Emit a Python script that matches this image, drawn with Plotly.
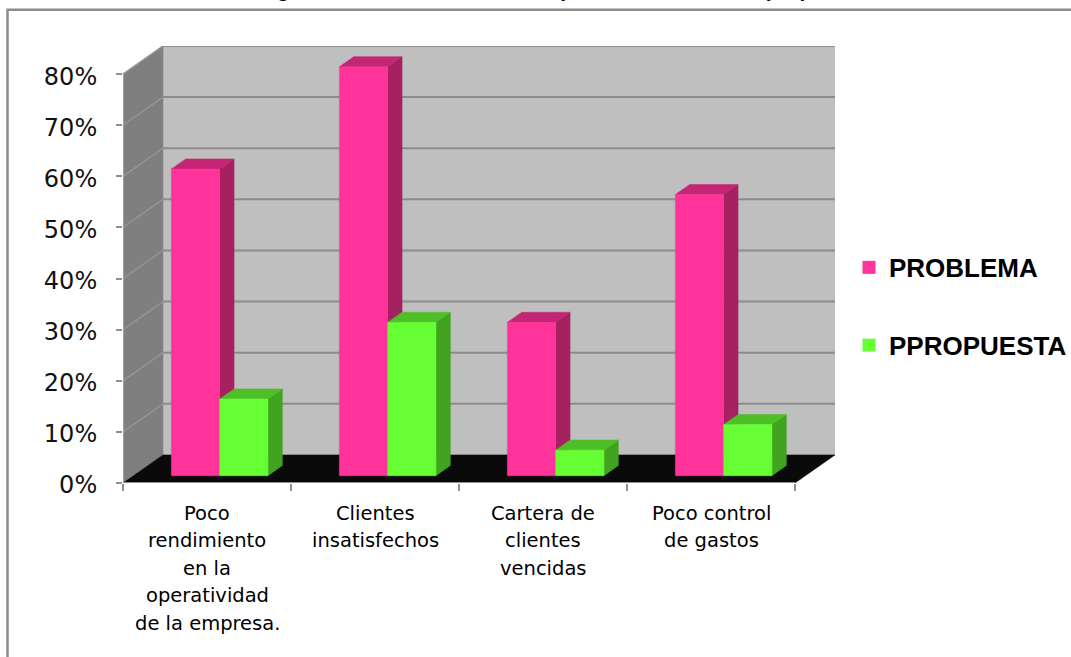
import plotly.graph_objects as go

# Chart values
category_lines = [
    ["Poco", "rendimiento", "en la", "operatividad", "de la empresa."],
    ["Clientes", "insatisfechos"],
    ["Cartera de", "clientes", "vencidas"],
    ["Poco control", "de gastos"],
]
problema = [60, 80, 30, 55]
propuesta = [15, 30, 5, 10]
y_ticks = [0, 10, 20, 30, 40, 50, 60, 70, 80]
y_tick_labels = ["0%", "10%", "20%", "30%", "40%", "50%", "60%", "70%", "80%"]
series_names = ["PROBLEMA", "PPROPUESTA"]

# Oblique projection of the depth axis, in axis units
DEPTH_X = 0.238
DEPTH_Y = 5.5
BAR_FRONT = 0.26
BAR_BACK = 0.62
BAR_LEFT = 0.226
BAR_WIDTH = 0.2875

PINK = {"front": "#FF3399", "side": "#A62160", "top": "#C42575"}
GREEN = {"front": "#66FF33", "side": "#41A320", "top": "#4FBF27"}
WALL = "#BFBFBF"
SIDE_WALL = "#7F7F7F"
FLOOR = "#0A0A0A"
GRID = "#8C8C8C"
AXIS = "#8F8F8F"

# Plot area in pixels
W, H = 1071, 657
L, R, T, B = 123, 236, 45.7, 173.5
PW, PH = W - L - R, H - T - B


def px(x):
    return (x - L) / PW


def py(y):
    return 1 - (y - T) / PH


def proj(x, v, depth):
    return x + depth * DEPTH_X, v + depth * DEPTH_Y


def polygon(points, color):
    xs = [p[0] for p in points] + [points[0][0]]
    ys = [p[1] for p in points] + [points[0][1]]
    return go.Scatter(
        x=xs, y=ys, mode="lines", fill="toself", fillcolor=color,
        line=dict(color=color, width=0.5), hoverinfo="skip", showlegend=False,
        cliponaxis=False,
    )


def segment(a, b, color, width=2):
    return go.Scatter(
        x=[a[0], b[0]], y=[a[1], b[1]], mode="lines",
        line=dict(color=color, width=width), hoverinfo="skip", showlegend=False,
        cliponaxis=False,
    )


def box(x0, x1, value, colors):
    """Side, top and front faces of one column standing on the floor."""
    f0, b0 = BAR_FRONT, BAR_BACK
    side = [proj(x1, 0, f0), proj(x1, 0, b0), proj(x1, value, b0), proj(x1, value, f0)]
    top = [proj(x0, value, f0), proj(x1, value, f0), proj(x1, value, b0), proj(x0, value, b0)]
    front = [proj(x0, 0, f0), proj(x1, 0, f0), proj(x1, value, f0), proj(x0, value, f0)]
    return [polygon(side, colors["side"]), polygon(top, colors["top"]), polygon(front, colors["front"])]


n = len(problema)
y_top = y_ticks[-1]
fig = go.Figure()

# Walls and floor of the 3-D box
fig.add_trace(polygon([proj(0, 0, 1), proj(n, 0, 1), proj(n, y_top, 1), proj(0, y_top, 1)], WALL))
fig.add_trace(polygon([proj(0, 0, 0), proj(0, 0, 1), proj(0, y_top, 1), proj(0, y_top, 0)], SIDE_WALL))
for v in y_ticks[1:]:
    fig.add_trace(segment(proj(0, v, 0), proj(0, v, 1), "#949494", 1.5))
    fig.add_trace(segment(proj(0, v, 1), proj(n, v, 1), GRID, 2))
fig.add_trace(polygon([proj(0, 0, 0), proj(n, 0, 0), proj(n, 0, 1), proj(0, 0, 1)], FLOOR))

# Axis lines
fig.add_trace(segment((0, 0), (0, y_top), "#A0A0A0", 2))
fig.add_trace(segment((0, 0), (n, 0), AXIS, 2))

# Columns, left to right so nearer faces overlap correctly
for i in range(n):
    x0 = i + BAR_LEFT
    for face in box(x0, x0 + BAR_WIDTH, problema[i], PINK):
        fig.add_trace(face)
    for face in box(x0 + BAR_WIDTH, x0 + 2 * BAR_WIDTH, propuesta[i], GREEN):
        fig.add_trace(face)

# Legend entries
for name, color in zip(series_names, [PINK["front"], GREEN["front"]]):
    fig.add_trace(go.Scatter(
        x=[None], y=[None], mode="markers", name=name, legendgroup=name,
        marker=dict(symbol="square", size=13, color=color),
    ))

annotations = []
for i, lines in enumerate(category_lines):
    for j, text in enumerate(lines):
        annotations.append(dict(
            x=i + 0.5, y=0, xref="x", yref="y", text=text, showarrow=False,
            xanchor="center", yanchor="middle", yshift=-(30 + 27.5 * j),
            font=dict(family="DejaVu Sans", size=19.5, color="#000000"),
        ))
annotations.append(dict(
    x=px(556), y=py(2), xref="paper", yref="paper", showarrow=False,
    text="Diagrama de los resultados del problema frente a la propuesta",
    xanchor="center", yanchor="bottom", borderpad=0,
    font=dict(family="Liberation Sans", size=21, color="#000000", weight="bold"),
))

fig.update_layout(
    width=W, height=H,
    margin=dict(l=L, r=R, t=T, b=B, pad=0, autoexpand=False),
    paper_bgcolor="white", plot_bgcolor="white",
    xaxis=dict(
        range=[0, n + DEPTH_X], showgrid=False, zeroline=False, showline=False,
        tickmode="array", tickvals=list(range(n + 1)), ticktext=[""] * (n + 1),
        ticks="outside", ticklen=7, tickwidth=2, tickcolor=AXIS,
    ),
    yaxis=dict(
        range=[0, y_top + DEPTH_Y], showgrid=False, zeroline=False, showline=False,
        tickmode="array", tickvals=y_ticks, ticktext=y_tick_labels,
        ticks="outside", ticklen=6, tickwidth=2, tickcolor=AXIS, ticklabelstandoff=14,
        ticklabelshift=2,
        tickfont=dict(family="DejaVu Sans", size=24, color="#111111"),
    ),
    legend=dict(
        x=px(849), y=py(244), xanchor="left", yanchor="top",
        font=dict(family="Liberation Sans", size=26, color="#000000", weight="bold"),
        tracegroupgap=41, itemwidth=30, bgcolor="rgba(0,0,0,0)",
    ),
    annotations=annotations,
    shapes=[dict(
        type="rect", xref="paper", yref="paper",
        x0=px(7.5), x1=px(1090), y0=py(9.5), y1=py(680),
        line=dict(color="#8C8C8C", width=2.5), fillcolor="rgba(0,0,0,0)", layer="below",
    )],
)

fig.write_html("out.html")
